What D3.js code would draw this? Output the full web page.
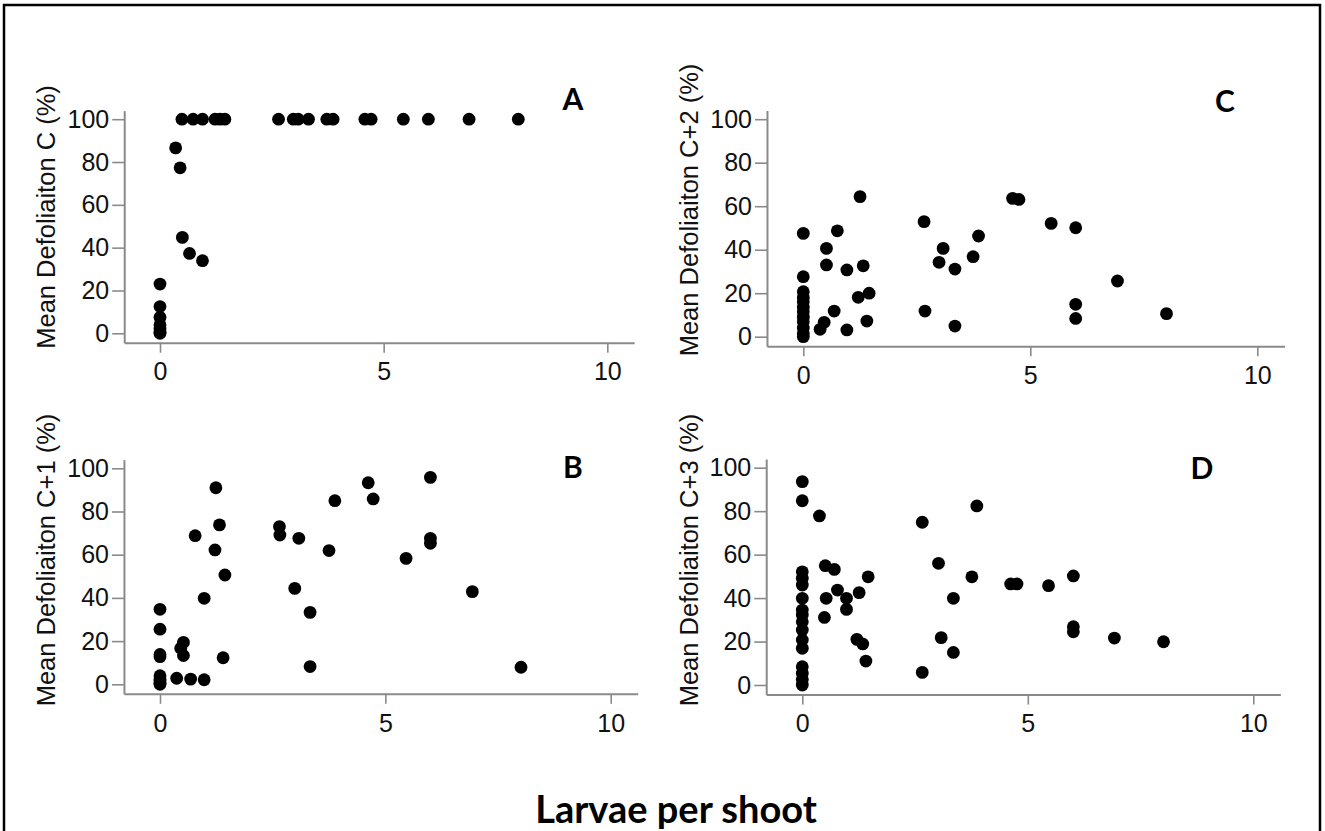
<!DOCTYPE html>
<html>
<head>
<meta charset="utf-8">
<script src="https://cdn.jsdelivr.net/npm/d3@7"></script>
<style>
  html, body { margin: 0; padding: 0; background: #fff; }
  svg { display: block; }
</style>
</head>
<body>
<svg id="chart" width="1325" height="831"></svg>
<script>
// data: larvae per shoot (x) vs mean defoliation % (y)
const larvaeA = [0, 0, 0, 0, 0, 0, 0,
  0.35, 0.45, 0.5, 0.66, 0.95,
  0.49, 0.74, 0.95, 1.23, 1.34, 1.45, 2.65, 2.98, 3.09, 3.32, 3.73, 3.87, 4.58, 4.72, 5.44, 6.0, 6.91, 8.01];
const defolA = [23, 12.5, 7.5, 4, 2, 0.5, 0,
  86.6, 77.3, 44.8, 37.3, 33.9,
  100, 100, 100, 100, 100, 100, 100, 100, 100, 100, 100, 100, 100, 100, 100, 100, 100, 100];

const larvaeB = [0, 0, 0, 0, 0, 0, 0, 0, 0,
  0.37, 0.46, 0.52, 0.52, 0.68, 0.78, 0.98, 0.98, 1.22, 1.24, 1.32, 1.40, 1.44,
  2.65, 2.66, 2.99, 3.08, 3.33, 3.33, 3.75, 3.88, 4.62, 4.73, 5.46, 6.0, 6.0, 6.0, 6.93, 8.01];
const defolB = [34.7, 25.5, 13.8, 12.8, 4, 2.5, 1.5, 0.5, 0,
  2.8, 16.7, 19.4, 13.3, 2.4, 68.8, 39.8, 2.1, 62.2, 91.0, 73.8, 12.3, 50.6,
  73.0, 69.1, 44.4, 67.6, 33.3, 8.2, 61.9, 85.0, 93.3, 85.8, 58.3, 95.8, 67.6, 65.3, 42.9, 7.9];

const larvaeC = [0, 0, 0, 0, 0, 0, 0, 0, 0, 0, 0, 0,
  0.37, 0.46, 0.51, 0.51, 0.68, 0.75, 0.96, 0.96, 1.25, 1.32, 1.21, 1.45, 1.40,
  2.66, 2.68, 2.99, 3.08, 3.34, 3.34, 3.74, 3.86, 4.61, 4.75, 5.46, 6.0, 6.0, 6.0, 6.92, 8.0];
const defolC = [47.5, 27.6, 20.7, 18, 16.1, 13.5, 11.5, 9, 6.9, 4, 1.5, 0,
  3.4, 6.6, 40.6, 33.0, 11.8, 48.7, 30.7, 3.1, 64.4, 32.6, 18.1, 20.0, 7.2,
  52.9, 11.8, 34.2, 40.6, 31.1, 4.9, 36.8, 46.3, 63.6, 63.1, 52.1, 50.1, 14.9, 8.4, 25.6, 10.6];

const larvaeD = [0, 0, 0, 0, 0, 0, 0, 0, 0, 0, 0, 0, 0, 0, 0, 0,
  0.38, 0.49, 0.53, 0.51, 0.71, 0.78, 0.98, 0.98, 1.26, 1.21, 1.34, 1.41, 1.46,
  2.66, 2.66, 3.02, 3.08, 3.35, 3.35, 3.76, 3.87, 4.62, 4.76, 5.46, 6.01, 6.01, 6.01, 6.92, 8.01];
const defolD = [93.6, 84.8, 52.1, 49.1, 46.0, 39.9, 34.5, 32.2, 29.1, 25.3, 20.7, 16.9, 8.4, 5.4, 2.5, 0,
  77.8, 31.1, 39.9, 54.9, 53.2, 43.7, 39.9, 34.8, 42.5, 21.0, 18.9, 11.0, 49.8,
  74.9, 5.8, 56.0, 21.8, 39.9, 15.0, 49.8, 82.4, 46.5, 46.5, 45.7, 50.2, 26.8, 24.5, 21.6, 19.9];

const xTicks = [0, 5, 10];
const yTicks = [0, 20, 40, 60, 80, 100];
const panelLetters = ["A", "B", "C", "D"];
const yTitles = ["Mean Defoliaiton C (%)", "Mean Defoliaiton C+1 (%)", "Mean Defoliaiton C+2 (%)", "Mean Defoliaiton C+3 (%)"];
const xTitle = "Larvae per shoot";

// panel layout in pixels (where 0 and 10 / 0 and 100 land)
const panels = [
  { xs: larvaeA, ys: defolA, x0: 160, x10: 607.3, y0: 333.3, y100: 119.2, letter: [573, 110], title: [55, 217] },
  { xs: larvaeB, ys: defolB, x0: 160, x10: 610.7, y0: 684.3, y100: 468.3, letter: [573, 478], title: [55, 560] },
  { xs: larvaeC, ys: defolC, x0: 803.3, x10: 1257.3, y0: 336.7, y100: 119.2, letter: [1225, 112], title: [698, 210] },
  { xs: larvaeD, ys: defolD, x0: 802.3, x10: 1253.3, y0: 685, y100: 467.7, letter: [1202, 479], title: [698, 560] }
];

const xLo = -0.8, xHi = 10.6, yLo = -4.4, yHi = 104;
const axisColor = "#8a8a8a";
const tickFont = "Liberation Sans, Arial, sans-serif";

const svg = d3.select("#chart");

// outer frame
svg.append("path")
  .attr("d", "M4,840 V5 H1320 V840")
  .attr("fill", "none")
  .attr("stroke", "#000")
  .attr("stroke-width", 2.5);

panels.forEach((p, i) => {
  const x = d3.scaleLinear().domain([0, 10]).range([p.x0, p.x10]);
  const y = d3.scaleLinear().domain([0, 100]).range([p.y0, p.y100]);

  const xAxisScale = d3.scaleLinear().domain([xLo, xHi]).range([x(xLo), x(xHi)]);
  const yAxisScale = d3.scaleLinear().domain([yLo, yHi]).range([y(yLo), y(yHi)]);

  const g = svg.append("g");

  const gx = g.append("g")
    .attr("transform", `translate(0,${y(yLo)})`)
    .call(d3.axisBottom(xAxisScale).tickValues(xTicks).tickSize(10).tickSizeOuter(0).tickPadding(10));

  const gy = g.append("g")
    .attr("transform", `translate(${x(xLo)},0)`)
    .call(d3.axisLeft(yAxisScale).tickValues(yTicks).tickSize(12).tickSizeOuter(0).tickPadding(3));

  [gx, gy].forEach(a => {
    a.select(".domain").attr("stroke", axisColor).attr("stroke-width", 2);
    a.selectAll(".tick line").attr("stroke", axisColor).attr("stroke-width", 1.6);
    a.selectAll(".tick text")
      .attr("fill", "#111")
      .style("font-family", tickFont)
      .style("font-size", "25px");
  });

  g.append("g")
    .selectAll("circle")
    .data(p.xs.map((v, k) => [v, p.ys[k]]))
    .join("circle")
    .attr("cx", d => x(d[0]))
    .attr("cy", d => y(d[1]))
    .attr("r", 6.4)
    .attr("fill", "#000");

  g.append("text")
    .attr("transform", `translate(${p.title[0]},${p.title[1]}) rotate(-90)`)
    .attr("text-anchor", "middle")
    .style("font-family", tickFont)
    .style("font-size", "25.5px")
    .attr("fill", "#111")
    .text(yTitles[i]);

  g.append("text")
    .attr("x", p.letter[0])
    .attr("y", p.letter[1])
    .attr("text-anchor", "middle")
    .style("font-family", "Lato, 'Open Sans', sans-serif")
    .style("font-weight", 700)
    .style("font-size", "30px")
    .attr("fill", "#000")
    .text(panelLetters[i]);
});

svg.append("text")
  .attr("x", 676)
  .attr("y", 823)
  .attr("text-anchor", "middle")
  .style("font-family", "Lato, 'Open Sans', sans-serif")
  .style("font-weight", 700)
  .style("font-size", "38px")
  .attr("fill", "#000")
  .text(xTitle);
</script>
</body>
</html>
